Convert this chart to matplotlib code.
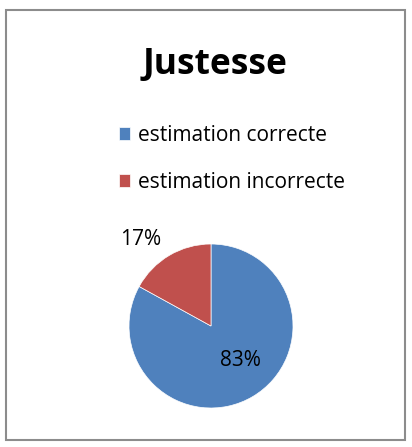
import matplotlib.pyplot as plt
from matplotlib.patches import Rectangle

labels = ['estimation correcte', 'estimation incorrecte']
values = [83, 17]
colors = ['#4F81BD', '#C0504D']
pct_text = ['83%', '17%']

plt.rcParams['font.family'] = ['Open Sans', 'DejaVu Sans']

fig = plt.figure(figsize=(4.12, 4.47), dpi=100)

# chart frame
fig.patches.append(Rectangle((6 / 412, 7 / 447), 399 / 412, 430 / 447,
                             transform=fig.transFigure, fill=False,
                             edgecolor='#8C8C8C', linewidth=1.5))

fig.text(0.522, 0.855, 'Justesse', ha='center', va='center',
         fontsize=25.5, fontweight='bold')

ax = fig.add_axes([(211 - 82) / 412, (447 - 326 - 82) / 447, 164 / 412, 164 / 447])
wedges, _ = ax.pie(values, colors=colors, startangle=90, counterclock=False,
                   wedgeprops=dict(linewidth=0.5, edgecolor='white'))
ax.set_xlim(-1, 1)
ax.set_ylim(-1, 1)
ax.set_aspect('equal')
ax.text(0.36, -0.42, pct_text[0], ha='center', va='center', fontsize=15)
ax.text(-0.86, 1.05, pct_text[1], ha='center', va='center', fontsize=15)

leg = fig.legend(wedges, labels, loc='upper left',
                 bbox_to_anchor=(100 / 412, 1 - 106 / 447),
                 frameon=False, fontsize=15, labelspacing=1.25,
                 handlelength=0.55, handleheight=0.55, handletextpad=0.35)

fig.savefig('out.png', dpi=100)
